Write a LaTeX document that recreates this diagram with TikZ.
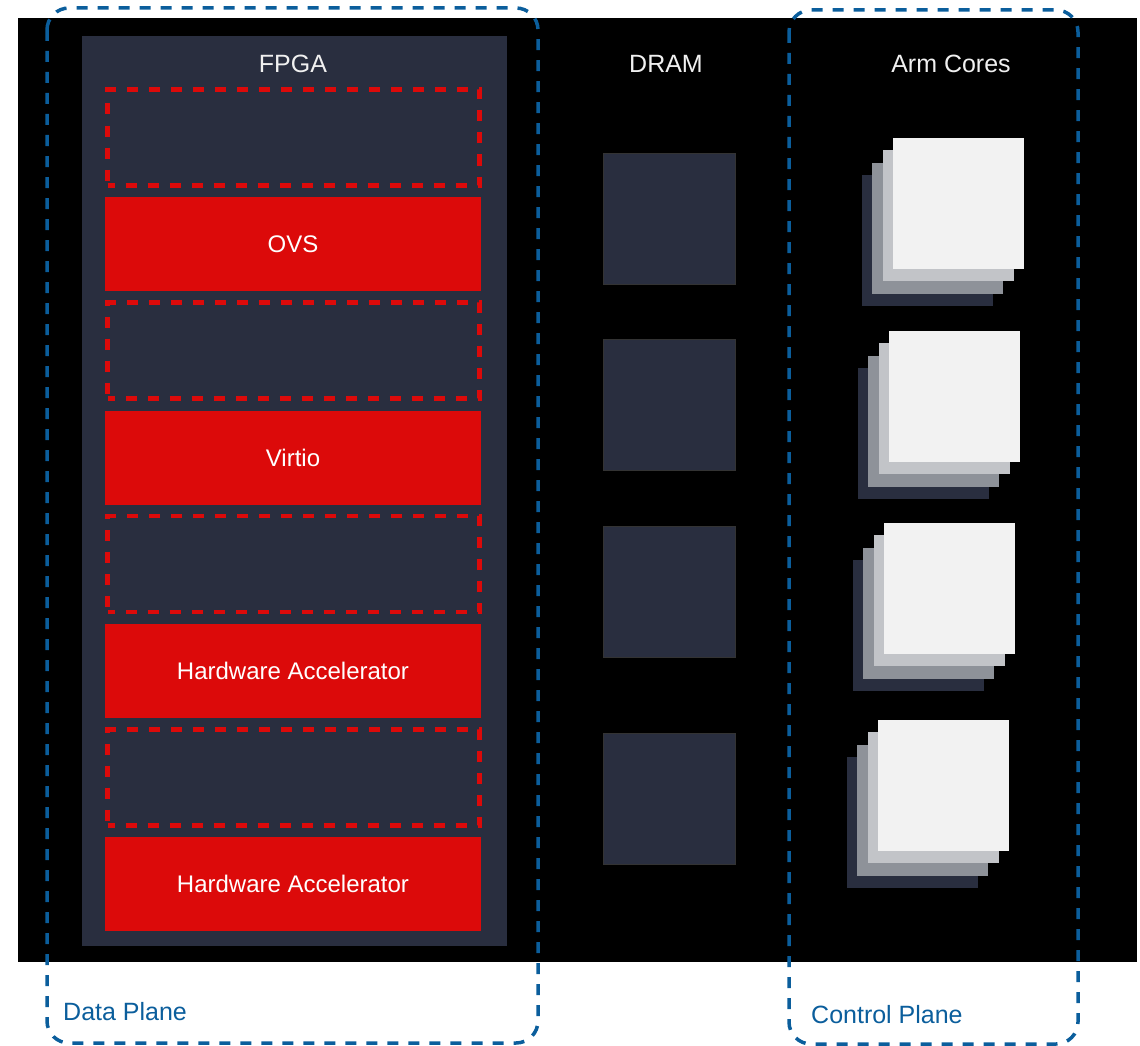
\documentclass[tikz,border=0pt]{standalone}
\usepackage{fontspec}
\setmainfont{Liberation Sans}
\definecolor{panel}{HTML}{292E3F}
\definecolor{hwred}{HTML}{DC0A0A}
\definecolor{planeblue}{HTML}{0B5E9C}
\definecolor{layergray}{HTML}{8E9299}
\definecolor{layerlight}{HTML}{C2C4C8}
\definecolor{layerfront}{HTML}{F2F2F2}
\definecolor{labelwhite}{HTML}{F0F0F0}
\begin{document}
\begin{tikzpicture}[x=1pt,y=-1pt,
  txt/.style={font=\fontsize{24}{28}\selectfont},
  lbl/.style={font=\fontsize{25}{29}\selectfont, text=labelwhite, inner sep=0},
  hwbox/.style={fill=hwred, draw=none, inner sep=0, minimum width=376pt, minimum height=94pt, text=white, txt},
  slotbox/.style={draw=hwred, line width=4.5pt, dash pattern=on 11pt off 11pt, dash phase=4pt, inner sep=0, minimum width=372pt, minimum height=96pt},
  dramsq/.style={fill=panel, draw=black!80, line width=0.5pt, inner sep=0, minimum width=132pt, minimum height=131pt},
  plane/.style={draw=planeblue, line width=3.5pt, dash pattern=on 11pt off 10pt, rounded corners=22pt},
  planelbl/.style={font=\fontsize{25}{29}\selectfont, text=planeblue, inner sep=0, anchor=west},
  lay/.style={inner sep=0, minimum width=131pt, minimum height=131pt, anchor=north west}
]
\useasboundingbox (0,0) rectangle (1140,1046);
\fill[black] (18,18) rectangle (1137,962);
% FPGA panel
\node[fill=panel, inner sep=0, minimum width=425pt, minimum height=910pt, anchor=north west] (fpga) at (82,36) {};
\node[lbl] (fpgalbl) at (293,64) {FPGA};
\node[slotbox] (slot1) at (293.5,137.5) {};
\node[hwbox] (ovs) at (293,244) {OVS};
\node[slotbox] (slot2) at (293.5,350.5) {};
\node[hwbox] (virtio) at (293,458) {Virtio};
\node[slotbox] (slot3) at (293.5,564) {};
\node[hwbox] (hwa1) at (293,671) {Hardware Accelerator};
\node[slotbox] (slot4) at (293.5,777.5) {};
\node[hwbox] (hwa2) at (293,884) {Hardware Accelerator};
% DRAM
\node[lbl] (dramlbl) at (666,64) {DRAM};
\node[dramsq] (dram1) at (669,218.5) {};
\node[dramsq] (dram2) at (669,405) {};
\node[dramsq] (dram3) at (669,592) {};
\node[dramsq] (dram4) at (669,799) {};
% Arm cores
\node[lbl] (armlbl) at (951,64) {Arm Cores};
\foreach \i/\fx/\fy in {1/893/138, 2/889/331, 3/884/523, 4/878/720}{
  \node[lay, fill=panel] (core\i d) at (\fx-31,\fy+37) {};
  \node[lay, fill=layergray] (core\i c) at (\fx-21,\fy+25) {};
  \node[lay, fill=layerlight] (core\i b) at (\fx-10,\fy+12) {};
  \node[lay, fill=layerfront] (core\i a) at (\fx,\fy) {};
}
% planes
\draw[plane] (47,8) rectangle (538,1043);
\draw[plane] (789,10) rectangle (1078,1044);
\node[planelbl] (dataplane) at (63,1012) {Data Plane};
\node[planelbl] (ctrlplane) at (811,1015) {Control Plane};
\end{tikzpicture}
\end{document}
